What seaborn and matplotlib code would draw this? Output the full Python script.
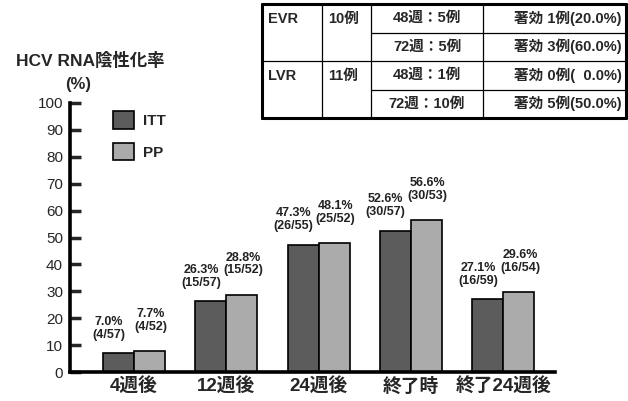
import matplotlib
matplotlib.use("Agg")
import matplotlib.pyplot as plt
from matplotlib.lines import Line2D
from matplotlib.patches import Patch
import pandas as pd
import seaborn as sns

# Response rates (%) at each time point
categories = ["4週後", "12週後", "24週後", "終了時", "終了24週後"]
itt_values = [7.0, 26.3, 47.3, 52.6, 27.1]
pp_values = [7.7, 28.8, 48.1, 56.6, 29.6]
itt_counts = ["(4/57)", "(15/57)", "(26/55)", "(30/57)", "(16/59)"]
pp_counts = ["(4/52)", "(15/52)", "(25/52)", "(30/53)", "(16/54)"]
series = ["ITT", "PP"]
y_ticks = [0, 10, 20, 30, 40, 50, 60, 70, 80, 90, 100]

# Summary table
table_groups = ["EVR", "LVR"]
table_n = ["10例", "11例"]
table_weeks = ["48週：5例", "72週：5例", "48週：1例", "72週：10例"]
table_effect = ["著効 1例(20.0%)", "著効 3例(60.0%)", "著効 0例(  0.0%)", "著効 5例(50.0%)"]

sns.set_theme(style="white")
plt.rcParams["font.family"] = ["Liberation Sans", "Noto Sans CJK JP", "DejaVu Sans"]

df = pd.DataFrame({
    "category": categories * 2,
    "rate": itt_values + pp_values,
    "group": [series[0]] * len(categories) + [series[1]] * len(categories),
})

W, H = 628, 401
fig = plt.figure(figsize=(W / 100, H / 100), dpi=100)
ax_left, ax_right, ax_bottom, ax_top = 70, 555, 372, 103
ax = fig.add_axes([ax_left / W, 1 - ax_bottom / H,
                   (ax_right - ax_left) / W, (ax_bottom - ax_top) / H])

colors = {"ITT": "#5c5c5c", "PP": "#ababab"}
sns.barplot(data=df, x="category", y="rate", hue="group", order=categories,
            hue_order=series, palette=colors, width=0.67, ax=ax,
            edgecolor="black", linewidth=1.2, legend=False, saturation=1)

ax.set_ylim(0, 100)
ax.set_xlim(-0.694, 4.56)
ax.set_yticks(y_ticks)
ax.set_yticklabels([str(t) for t in y_ticks], fontsize=11)
ax.set_xlabel("")
ax.set_ylabel("")
ax.set_xticks(range(len(categories)))
ax.set_xticklabels(categories, fontsize=13.5, fontweight="bold")
ax.tick_params(axis="y", direction="in", length=8, width=2.5, pad=5, left=True)
ax.tick_params(axis="x", length=0, pad=4)
for side in ["top", "right"]:
    ax.spines[side].set_visible(False)
for side in ["left", "bottom"]:
    ax.spines[side].set_linewidth(2.6)
    ax.spines[side].set_color("black")

# Value labels above the bars
bar_half = 0.67 / 4
for i in range(len(categories)):
    ax.annotate(f"{itt_values[i]:.1f}%\n{itt_counts[i]}",
                xy=(i - bar_half, itt_values[i]), xytext=(-7, 9),
                textcoords="offset points", ha="center", va="bottom",
                fontsize=9, fontweight="bold", linespacing=1.1, color="#222222")
    ax.annotate(f"{pp_values[i]:.1f}%\n{pp_counts[i]}",
                xy=(i + bar_half, pp_values[i]), xytext=(1, 13),
                textcoords="offset points", ha="center", va="bottom",
                fontsize=9, fontweight="bold", linespacing=1.1, color="#222222")

# Legend
handles = [Patch(facecolor=colors[s], edgecolor="black", linewidth=1.2, label=s)
           for s in series]
ax.legend(handles=handles, loc="upper left", bbox_to_anchor=(0.06, 1.02),
          frameon=False, handlelength=1.4, handleheight=1.4,
          labelspacing=0.9, handletextpad=0.6, prop={"weight": "bold", "size": 11})

# Axis title
fig.text(90 / W, 1 - 60 / H, "HCV RNA陰性化率", ha="center", va="center",
         fontsize=12.5, fontweight="bold")
fig.text(78 / W, 1 - 84 / H, "(%)", ha="center", va="center",
         fontsize=12, fontweight="bold")

# Table drawn in pixel coordinates
def fx(x):
    return x / W

def fy(y):
    return 1 - y / H

def hline(x0, x1, y, lw):
    fig.add_artist(Line2D([fx(x0), fx(x1)], [fy(y), fy(y)], color="black", lw=lw))

def vline(x, y0, y1, lw):
    fig.add_artist(Line2D([fx(x), fx(x)], [fy(y0), fy(y1)], color="black", lw=lw))

t_left, t_right, t_top, t_bottom = 262, 626, 4, 118
cols = [t_left, 322, 371, 483, t_right]
row_h = (t_bottom - t_top) / 4
rows = [t_top + row_h * k for k in range(5)]

hline(t_left, t_right, t_top, 2.2)
hline(t_left, t_right, t_bottom, 2.2)
vline(t_left, t_top, t_bottom, 2.2)
vline(t_right, t_top, t_bottom, 2.2)
hline(t_left, t_right, rows[2], 0.9)
hline(cols[2], t_right, rows[1], 0.9)
hline(cols[2], t_right, rows[3], 0.9)
for c in cols[1:4]:
    vline(c, t_top, t_bottom, 0.9)

tfs = 10.5
for g in range(2):
    yc = (rows[2 * g] + rows[2 * g + 1]) / 2 + 1
    fig.text(fx(cols[0] + 6), fy(yc), table_groups[g], ha="left", va="center",
             fontsize=tfs, fontweight="bold")
    fig.text(fx(cols[1] + 6), fy(yc), table_n[g], ha="left", va="center",
             fontsize=tfs, fontweight="bold")
for r in range(4):
    yc = (rows[r] + rows[r + 1]) / 2
    fig.text(fx((cols[2] + cols[3]) / 2), fy(yc), table_weeks[r], ha="center",
             va="center", fontsize=tfs, fontweight="bold")
    fig.text(fx(622), fy(yc), table_effect[r], ha="right", va="center",
             fontsize=tfs, fontweight="bold")

fig.savefig("out.png", dpi=100)
